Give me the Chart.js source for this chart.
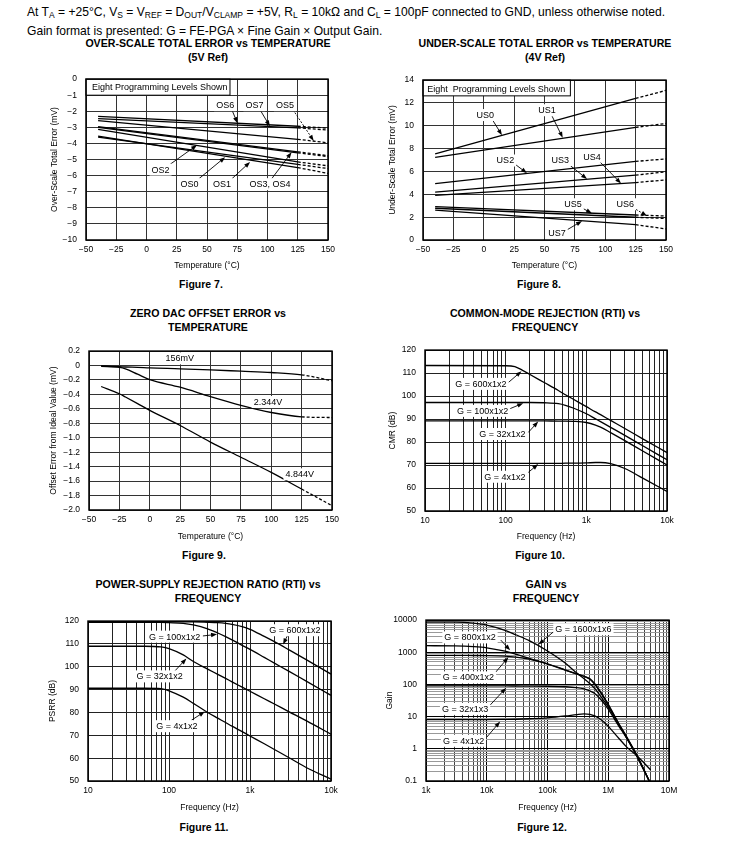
<!DOCTYPE html>
<html>
<head>
<meta charset="utf-8">
<script src="https://cdn.jsdelivr.net/npm/chart.js@4.4.1/dist/chart.umd.min.js"></script>
<style>
  body{margin:0;width:743px;height:841px;position:relative;background:#fff;color:#000;overflow:hidden;
    font-family:"Liberation Sans",Arial,Helvetica,sans-serif}
  .t{position:absolute;white-space:nowrap}
  .hd{left:27px;font-size:12.1px;line-height:14px}
  .hd sub{font-size:8.5px;line-height:0;vertical-align:-2px}
  .c{transform:translateX(-50%);text-align:center}
  .ti{font-weight:bold;font-size:10.6px;line-height:13.5px}
  .cap{font-weight:bold;font-size:10.5px;line-height:12px;
    font-family:"Liberation Sans Narrow","Arial Narrow","Liberation Sans",Arial,sans-serif}
  canvas{position:absolute}
</style>
</head>
<body>
<div class="t hd" style="top:5px">At T<sub>A</sub> = +25°C, V<sub>S</sub> = V<sub>REF</sub> = D<sub>OUT</sub>/V<sub>CLAMP</sub> = +5V, R<sub>L</sub> = 10kΩ and C<sub>L</sub> = 100pF connected to GND, unless otherwise noted.</div>
<div class="t hd" style="top:24px">Gain format is presented: G = FE-PGA × Fine Gain × Output Gain.</div>

<div class="t c ti" style="left:208px;top:37px">OVER-SCALE TOTAL ERROR vs TEMPERATURE<br>(5V Ref)</div>
<div class="t c ti" style="left:545px;top:37px">UNDER-SCALE TOTAL ERROR vs TEMPERATURE<br>(4V Ref)</div>
<div class="t c ti" style="left:208px;top:307px">ZERO DAC OFFSET ERROR vs<br>TEMPERATURE</div>
<div class="t c ti" style="left:545px;top:307px">COMMON-MODE REJECTION (RTI) vs<br>FREQUENCY</div>
<div class="t c ti" style="left:208px;top:578px">POWER-SUPPLY REJECTION RATIO (RTI) vs<br>FREQUENCY</div>
<div class="t c ti" style="left:546px;top:578px">GAIN vs<br>FREQUENCY</div>

<div class="t c cap" style="left:201px;top:278px">Figure 7.</div>
<div class="t c cap" style="left:539px;top:278px">Figure 8.</div>
<div class="t c cap" style="left:204px;top:549px">Figure 9.</div>
<div class="t c cap" style="left:540px;top:549px">Figure 10.</div>
<div class="t c cap" style="left:204px;top:821px">Figure 11.</div>
<div class="t c cap" style="left:542px;top:821px">Figure 12.</div>

<script>
// ── Fig 7: over-scale total error (mV), solid to 125°C then dashed ──
const OS_TEMP = [-40, 125, 150];
const OS0 = [-3.54, -5.50, -5.86];
const OS1 = [-3.60, -5.30, -5.56];
const OS2 = [-3.13, -5.15, -5.39];
const OS3 = [-2.95, -4.52, -4.76];
const OS4 = [-3.00, -4.58, -4.82];
const OS5 = [-2.58, -3.74, -3.96];
const OS6 = [-2.32, -2.93, -3.05];
const OS7 = [-2.46, -3.03, -3.17];

// ── Fig 8: under-scale total error (mV) ──
const US_TEMP = [-40, 125, 150];
const US0 = [7.53, 12.40, 13.10];
const US1 = [7.24, 9.86, 10.20];
const US2 = [4.94, 6.88, 7.10];
const US3 = [4.20, 5.68, 5.97];
const US4 = [3.90, 5.03, 5.26];
const US5 = [2.93, 2.19, 2.10];
const US6 = [2.78, 1.99, 1.88];
const US7 = [2.61, 1.34, 0.97];

// ── Fig 9: zero DAC offset error (mV) ──
const ZD_TEMP  = [-40, -25, -20, -10, 0, 25, 50, 75, 100, 125, 150];
const ZD_156MV = [-0.005, -0.015, -0.02, -0.025, -0.033, -0.045, -0.06, -0.078, -0.096, -0.128, -0.21];
const ZD_2344V = [-0.01, -0.025, -0.045, -0.12, -0.195, -0.30, -0.43, -0.55, -0.65, -0.71, -0.72];
const ZD_4844V = [-0.29, -0.39, -0.436, -0.528, -0.62, -0.83, -1.06, -1.27, -1.48, -1.71, -1.94];

// ── Fig 10: CMR (dB) ──
const CMR_FREQ = [10, 100, 130, 160, 200, 300, 450, 550, 700, 1000, 1300, 1500, 2000, 3000, 5000, 10000];
const CMR_G600 = [113.3, 113.2, 112.8, 111.3, 109.4, 105.9, 102.4, 100.6, 98.5, 95.4, 93.1, 91.9, 89.4, 85.9, 81.4, 75.4];
const CMR_G100 = [97.2, 97.2, 97.2, 97.2, 97.2, 97.1, 96.7, 96.0, 94.7, 92.3, 90.1, 88.9, 86.4, 82.9, 78.4, 72.3];
const CMR_G32  = [89.2, 89.2, 89.2, 89.2, 89.2, 89.2, 89.1, 89.1, 89.0, 88.5, 87.4, 86.5, 84.1, 80.6, 76.1, 70.0];
const CMR_G4   = [70.7, 70.7, 70.7, 70.7, 70.7, 70.7, 70.7, 70.8, 70.8, 70.9, 71.1, 71.1, 70.6, 68.5, 64.3, 58.5];

// ── Fig 11: PSRR (dB) ──
const PSRR_FREQ = [10, 50, 80, 100, 150, 200, 300, 400, 500, 600, 800, 1000, 1500, 2000, 3000, 5000, 10000];
const PSRR_G600 = [119.7, 119.7, 119.7, 119.7, 119.7, 119.7, 119.5, 119.3, 119.0, 118.6, 117.6, 116.4, 113.3, 111.0, 107.5, 103.0, 96.8];
const PSRR_G100 = [119.4, 119.4, 119.4, 119.3, 119.0, 118.3, 116.6, 114.8, 113.2, 111.8, 109.4, 107.6, 104.1, 101.6, 98.1, 93.6, 87.5];
const PSRR_G32  = [109.0, 109.0, 108.7, 108.0, 105.2, 102.3, 99.0, 96.7, 94.9, 93.4, 91.1, 89.3, 86.0, 83.7, 80.4, 76.3, 70.5];
const PSRR_G4   = [90.6, 90.6, 90.4, 89.5, 86.7, 84.0, 80.0, 77.5, 75.6, 74.0, 71.6, 69.7, 66.3, 63.8, 60.3, 55.8, 50.8];

// ── Fig 12: gain ──
const GAIN_FREQ  = [1e3, 3e3, 6e3, 1e4, 2e4, 3e4, 5e4, 1e5, 2e5, 3e5, 4e5, 5e5, 6e5, 8e5, 1e6, 1.5e6, 2e6, 3e6, 5e6];
const GAIN_G1600 = [8700, 8600, 8000, 7000, 4800, 3500, 2300, 1100, 450, 230, 150, 105, 75, 36, 20, 5.5, 2.2, 0.6, 0.08];
const GAIN_G800  = [1600, 1580, 1500, 1380, 1080, 880, 650, 440, 280, 215, 180, 150, 105, 48, 24, 6, 2.4, 0.6, 0.08];
const GAIN_G400  = [800, 800, 795, 790, 760, 710, 610, 430, 275, 212, 178, 145, 100, 46, 23, 5.8, 2.3, 0.58, 0.08];
const GAIN_G32   = [90, 90, 90, 90, 90, 89.5, 89, 88, 85, 80, 73, 63, 52, 30, 17, 5, 2.2, 0.55, 0.08];
const GAIN_G4    = [8.1, 8.1, 8.1, 8.1, 8.2, 8.3, 8.6, 9.2, 10.5, 11.6, 12.2, 11.8, 10.5, 7.5, 5, 2.1, 1.15, 0.6, 0.22];

// ── axis ticks ──
const TEMP_TICKS = [-50, -25, 0, 25, 50, 75, 100, 125, 150];
const OS_TICKS = [0, -1, -2, -3, -4, -5, -6, -7, -8, -9, -10];
const US_TICKS = [0, 2, 4, 6, 8, 10, 12, 14];
const ZD_TICKS = [0.2, 0, -0.2, -0.4, -0.6, -0.8, -1.0, -1.2, -1.4, -1.6, -1.8, -2.0];
const ZD_LABELS = ['0.2', '0', '\u22120.2', '\u22120.4', '\u22120.6', '\u22120.8', '\u22121.0', '\u22121.2', '\u22121.4', '\u22121.6', '\u22121.8', '\u22122.0'];
const DB_TICKS = [50, 60, 70, 80, 90, 100, 110, 120];
const HZ_TICKS = [10, 100, 1000, 10000];
const HZ_LABELS = ['10', '100', '1k', '10k'];
const GHZ_TICKS = [1e3, 1e4, 1e5, 1e6, 1e7];
const GHZ_LABELS = ['1k', '10k', '100k', '1M', '10M'];
const GAIN_TICKS = [0.1, 1, 10, 100, 1000, 10000];
const GAIN_LABELS = ['0.1', '1', '10', '100', '1000', '10000'];

const SANS = '"Liberation Sans", Arial, Helvetica, sans-serif';
const NARROW = '"Liberation Sans Narrow", "Arial Narrow", "Liberation Sans", Arial, sans-serif';
const PL = 62, PT = 10, PR = 16, PB = 44;   // canvas margin round the plot box
const LH = 8.5 * 1.2;

Chart.defaults.font.family = SANS;
Chart.defaults.color = '#000';

const neg = v => (v < 0 ? '\u2212' + (-v) : String(v));

function withMinors(dec){
  const out = [];
  dec.forEach((d, i) => {
    if (i === dec.length - 1) { out.push(d); return; }
    for (let k = 1; k < 10; k++) out.push(+(d * k).toPrecision(6));
  });
  return out;
}

function axis(isX, o, area){
  const [L, T, W, H] = area;
  const vals = o.minor ? withMinors(o.ticks) : o.ticks;
  const ch = H + PT + PB;
  const major = v => o.ticks.indexOf(v) >= 0;
  return {
    type: o.log ? 'logarithmic' : 'linear',
    min: Math.min(...o.ticks), max: Math.max(...o.ticks),
    afterBuildTicks: s => { s.ticks = vals.map(v => ({value: v})); },
    afterFit: s => { if (isX) s.height = PB; else s.width = PL; },
    border: {display: false},
    grid: {drawTicks: false, lineWidth: 1,
      color: c => major(c.tick.value) ? (o.majorColor || '#333') : (o.minorColor || '#333')},
    ticks: {autoSkip: false, maxRotation: 0, padding: isX ? 5 : 9, color: '#000',
      font: {size: 8.5, family: NARROW},
      callback: v => { const i = o.ticks.indexOf(v); return i < 0 ? '' : (o.labels ? o.labels[i] : neg(v)); }},
    title: {display: true, text: o.title, color: '#000', font: {size: 8.5, family: SANS},
      padding: isX ? {top: 0, bottom: ch - (o.titleAt - T + PT) - LH / 2}
                   : {top: o.titleAt - L + PL - LH / 2, bottom: 0}}
  };
}

function line(xs, ys, opt){
  opt = opt || {};
  return {
    data: xs.map((x, i) => ({x: x, y: ys[i]})),
    borderColor: '#000', borderWidth: 1.3, pointRadius: 0, fill: false,
    cubicInterpolationMode: opt.smooth ? 'monotone' : 'default', tension: 0,
    segment: opt.dashFrom == null ? {} : {borderDash: c => c.p0.parsed.x >= opt.dashFrom ? [3, 2] : undefined}
  };
}

// labels, leader arrows and the plot frame
const notesPlugin = {
  id: 'notes',
  afterDatasetsDraw(chart, args, opts){
    const {ctx, chartArea: a} = chart;
    const sx = chart.scales.x, sy = chart.scales.y;
    const px = p => [sx.getPixelForValue(p[0]), sy.getPixelForValue(p[1])];
    ctx.save();
    ctx.font = '9px ' + SANS;
    ctx.textBaseline = 'middle';
    (opts.list || []).forEach(n => {
      if (n.box){
        const p0 = px(n.box[0]), p1 = px(n.box[1]);
        ctx.fillStyle = '#fff';
        ctx.fillRect(p0[0], p0[1], p1[0] - p0[0], p1[1] - p0[1]);
        ctx.strokeStyle = '#000'; ctx.lineWidth = 1;
        ctx.strokeRect(p0[0], p0[1], p1[0] - p0[0], p1[1] - p0[1]);
      }
      if (n.to){
        const f = px(n.from), t = px(n.to);
        const ang = Math.atan2(t[1] - f[1], t[0] - f[0]);
        ctx.strokeStyle = '#000'; ctx.lineWidth = 0.9;
        ctx.setLineDash(n.dash ? [2, 1.5] : []);
        ctx.beginPath(); ctx.moveTo(f[0], f[1]);
        ctx.lineTo(t[0] - 4 * Math.cos(ang), t[1] - 4 * Math.sin(ang)); ctx.stroke();
        ctx.setLineDash([]);
        ctx.fillStyle = '#000';
        ctx.beginPath(); ctx.moveTo(t[0], t[1]);
        ctx.lineTo(t[0] - 6 * Math.cos(ang) + 2.2 * Math.sin(ang), t[1] - 6 * Math.sin(ang) - 2.2 * Math.cos(ang));
        ctx.lineTo(t[0] - 6 * Math.cos(ang) - 2.2 * Math.sin(ang), t[1] - 6 * Math.sin(ang) + 2.2 * Math.cos(ang));
        ctx.closePath(); ctx.fill();
      }
      if (n.text){
        const p = px(n.at);
        const w = ctx.measureText(n.text).width;
        const x0 = n.align === 'left' ? p[0] : p[0] - w / 2;
        if (!n.box){ ctx.fillStyle = '#fff'; ctx.fillRect(x0 - 2, p[1] - 6, w + 4, 12); }
        ctx.fillStyle = '#000'; ctx.textAlign = 'left';
        ctx.fillText(n.text, x0, p[1] + 0.5);
      }
    });
    ctx.strokeStyle = '#000'; ctx.lineWidth = 1.5;
    ctx.strokeRect(a.left, a.top, a.right - a.left, a.bottom - a.top);
    ctx.restore();
  }
};

function plot(area, xo, yo, datasets, notes){
  const [L, T, W, H] = area;
  const cv = document.createElement('canvas');
  const cw = W + PL + PR, ch = H + PT + PB;
  cv.width = cw; cv.height = ch;
  cv.style.cssText = 'left:' + (L - PL) + 'px;top:' + (T - PT) + 'px;width:' + cw + 'px;height:' + ch + 'px';
  document.body.appendChild(cv);
  return new Chart(cv, {
    type: 'line',
    data: {datasets: datasets},
    options: {
      responsive: false, animation: false, devicePixelRatio: 1,
      layout: {padding: {left: 0, top: PT, right: PR, bottom: 0}},
      plugins: {legend: {display: false}, tooltip: {enabled: false}, notes: {list: notes}},
      scales: {x: axis(true, xo, area), y: axis(false, yo, area)}
    },
    plugins: [notesPlugin]
  });
}

// ── Figure 7 ──
plot([86, 75, 242, 165],
  {ticks: TEMP_TICKS, title: 'Temperature (°C)', titleAt: 266},
  {ticks: OS_TICKS, title: 'Over-Scale Total Error (mV)', titleAt: 55},
  [OS0, OS1, OS2, OS3, OS4, OS5, OS6, OS7].map(v => line(OS_TEMP, v, {dashFrom: 125})),
  [
    {box: [[-50, 0], [69, -1]], text: 'Eight Programming Levels Shown', at: [-45, -0.5], align: 'left'},
    {text: 'OS6', at: [65, -1.62], from: [70.5, -1.9], to: [75.2, -2.74]},
    {text: 'OS7', at: [89.2, -1.62], from: [93.8, -1.9], to: [102, -2.94]},
    {text: 'OS5', at: [114.4, -1.62], from: [121, -1.9], to: [138.2, -3.84], dash: true},
    {text: 'OS2', at: [11.6, -5.62], from: [18.5, -5.35], to: [41.8, -4.1]},
    {text: 'OS0', at: [35.5, -6.53], from: [43.2, -6.2], to: [65, -4.85]},
    {text: 'OS1', at: [62.3, -6.53], from: [70.5, -6.2], to: [85.6, -5.15]},
    {text: 'OS3, OS4', at: [102, -6.53], from: [103.4, -6.2], to: [119.9, -4.55]}
  ]);

// ── Figure 8 ──
plot([423, 76, 243, 164],
  {ticks: TEMP_TICKS, title: 'Temperature (°C)', titleAt: 266},
  {ticks: US_TICKS, title: 'Under-Scale Total Error (mV)', titleAt: 393},
  [US0, US1, US2, US3, US4, US5, US6, US7].map(v => line(US_TEMP, v, {dashFrom: 125})),
  [
    {box: [[-50, 14], [71.3, 12.62]], text: 'Eight  Programming Levels Shown', at: [-46.5, 13.25], align: 'left'},
    {text: 'US0', at: [1.3, 10.94], from: [7.6, 10.45], to: [15, 9.18]},
    {text: 'US1', at: [52.1, 11.36], from: [56.2, 10.85], to: [65, 8.95]},
    {text: 'US2', at: [17.8, 6.96], from: [25.2, 6.68], to: [35.6, 5.85]},
    {text: 'US3', at: [63, 6.96], from: [69.3, 6.68], to: [85, 5.34]},
    {text: 'US4', at: [89.1, 7.3], from: [94.6, 6.95], to: [113, 4.95]},
    {text: 'US5', at: [73.5, 3.13], from: [80.3, 2.84], to: [89.1, 2.33]},
    {text: 'US6', at: [116.5, 3.13], from: [122.8, 2.84], to: [134.4, 2.1], dash: true},
    {text: 'US7', at: [60.3, 0.57], from: [67.1, 0.8], to: [80.9, 1.66]}
  ]);

// ── Figure 9 ──
plot([89, 347, 243, 163],
  {ticks: TEMP_TICKS, title: 'Temperature (°C)', titleAt: 537},
  {ticks: ZD_TICKS, labels: ZD_LABELS, title: 'Offset Error from Ideal Value (mV)', titleAt: 54},
  [ZD_156MV, ZD_2344V, ZD_4844V].map(v => line(ZD_TEMP, v, {dashFrom: 125, smooth: true})),
  [
    {text: '156mV', at: [24.6, 0.1]},
    {text: '2.344V', at: [97.3, -0.505]},
    {text: '4.844V', at: [123.4, -1.506]}
  ]);

// ── Figure 10 ──
plot([425, 346, 242, 165],
  {ticks: HZ_TICKS, labels: HZ_LABELS, log: true, minor: true, title: 'Frequency (Hz)', titleAt: 537, majorColor: '#222', minorColor: '#222'},
  {ticks: DB_TICKS, title: 'CMR (dB)', titleAt: 393, majorColor: '#222'},
  [CMR_G600, CMR_G100, CMR_G32, CMR_G4].map(v => line(CMR_FREQ, v, {smooth: true})),
  [
    {text: 'G = 600x1x2', at: [49.4, 105.3], from: [108, 105.9], to: [157, 110.8]},
    {text: 'G = 100x1x2', at: [51.8, 93.55], from: [113, 94.5], to: [165, 96.9]},
    {text: 'G = 32x1x2', at: [91, 83.5], from: [191, 84.2], to: [253, 88.9]},
    {text: 'G = 4x1x2', at: [98, 64.9], from: [191, 66.8], to: [253, 70.4]}
  ]);

// ── Figure 11 ──
plot([88, 617, 243, 164],
  {ticks: HZ_TICKS, labels: HZ_LABELS, log: true, minor: true, title: 'Frequency (Hz)', titleAt: 808, majorColor: '#222', minorColor: '#222'},
  {ticks: DB_TICKS, title: 'PSRR (dB)', titleAt: 53, majorColor: '#222'},
  [PSRR_G600, PSRR_G100, PSRR_G32, PSRR_G4].map(v => line(PSRR_FREQ, v, {smooth: true})),
  [
    {text: 'G = 600x1x2', at: [3590, 116], from: [2950, 114.2], to: [2560, 109.8]},
    {text: 'G = 100x1x2', at: [117, 113.2], from: [262, 113.5], to: [392, 114.2]},
    {text: 'G = 32x1x2', at: [76.7, 95.8], from: [112, 97.3], to: [164, 103.6]},
    {text: 'G = 4x1x2', at: [125, 74], from: [189, 76.6], to: [277, 80.4]}
  ]);

// ── Figure 12 ──
plot([426, 616, 243, 165],
  {ticks: GHZ_TICKS, labels: GHZ_LABELS, log: true, minor: true, title: 'Frequency (Hz)', titleAt: 808, majorColor: '#000', minorColor: '#444'},
  {ticks: GAIN_TICKS, labels: GAIN_LABELS, log: true, minor: true, title: 'Gain', titleAt: 390, majorColor: '#000', minorColor: '#999'},
  [GAIN_G1600, GAIN_G800, GAIN_G400, GAIN_G32, GAIN_G4].map(v => line(GAIN_FREQ, v, {smooth: true})),
  [
    {text: 'G = 1600x1x6', at: [390e3, 5200], from: [125e3, 4300], to: [71e3, 1750]},
    {text: 'G = 800x1x2', at: [5.3e3, 2900], from: [17e3, 2400], to: [24.3e3, 1150]},
    {text: 'G = 400x1x2', at: [5e3, 166], from: [12.9e3, 200], to: [22.7e3, 700]},
    {text: 'G = 32x1x3', at: [4.4e3, 17.4], from: [11.4e3, 23], to: [20.8e3, 78]},
    {text: 'G = 4x1x2', at: [4.15e3, 1.78], from: [10e3, 2.3], to: [16.6e3, 7]}
  ]);
</script>
</body>
</html>
